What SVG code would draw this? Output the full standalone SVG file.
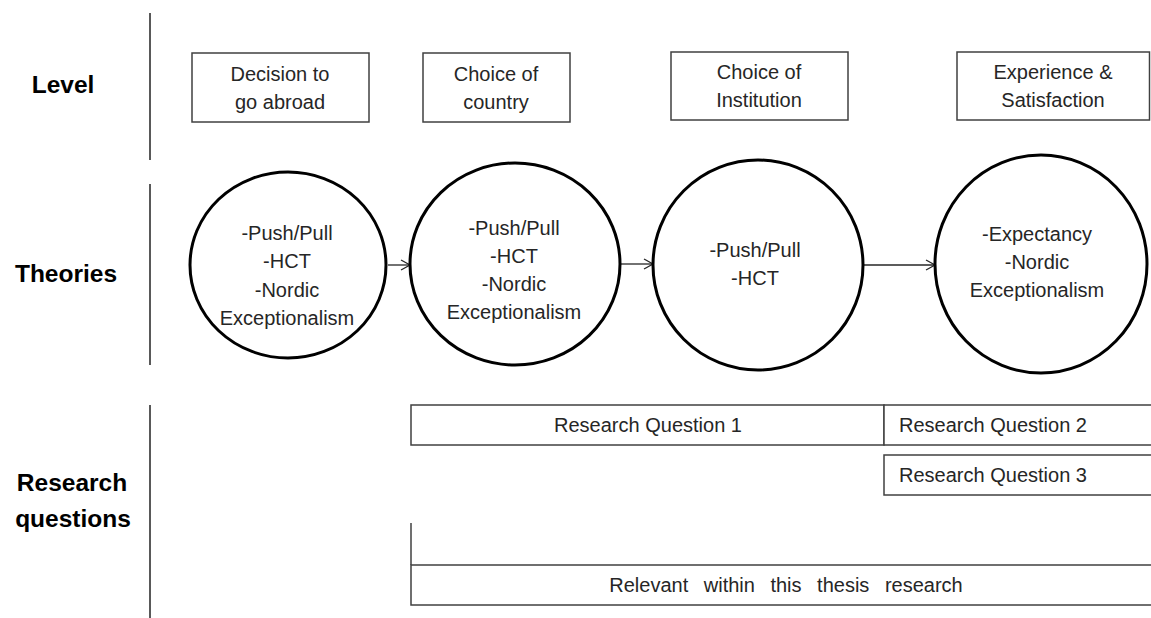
<svg xmlns="http://www.w3.org/2000/svg" width="1151" height="618" viewBox="0 0 1151 618">
<style>
  .lbl { font-family: "Liberation Sans", Arial, sans-serif; font-weight: bold; font-size: 24.5px; fill: #000; text-anchor: middle; }
  .t { font-family: "Liberation Sans", Arial, sans-serif; font-size: 20px; fill: #262626; text-anchor: middle; }
  .box { fill: #fff; stroke: #404040; stroke-width: 1.5; }
  .circ { fill: #fff; stroke: #000; stroke-width: 3; }
  .sep { stroke: #595959; stroke-width: 2; fill: none; }
  .conn { stroke: #262626; stroke-width: 1.3; fill: none; }
</style>
<defs>
  <marker id="arr" markerWidth="12" markerHeight="12" refX="10" refY="6" orient="auto" markerUnits="userSpaceOnUse">
    <polyline points="1,1 10,6 1,11" fill="none" stroke="#262626" stroke-width="1.3"/>
  </marker>
</defs>
<rect width="1151" height="618" fill="#fff"/>

<g id="row-labels">
  <text class="lbl" x="63" y="93">Level</text>
  <text class="lbl" x="66" y="282">Theories</text>
  <text class="lbl" x="72" y="491">Research</text>
  <text class="lbl" x="73" y="527">questions</text>
</g>

<g id="separators">
  <line class="sep" x1="150" y1="13" x2="150" y2="160"/>
  <line class="sep" x1="150" y1="184" x2="150" y2="365"/>
  <line class="sep" x1="150" y1="405" x2="150" y2="618"/>
</g>

<g id="level1">
  <rect class="box" x="192" y="53" width="177" height="69"/>
  <text class="t" x="280" y="81">Decision to</text>
  <text class="t" x="280" y="109">go abroad</text>
</g>
<g id="level2">
  <rect class="box" x="423" y="53" width="147" height="69"/>
  <text class="t" x="496" y="81">Choice of</text>
  <text class="t" x="496" y="109">country</text>
</g>
<g id="level3">
  <rect class="box" x="671" y="52" width="177" height="68"/>
  <text class="t" x="759" y="79">Choice of</text>
  <text class="t" x="759" y="107">Institution</text>
</g>
<g id="level4">
  <rect class="box" x="957" y="52" width="192.5" height="68"/>
  <text class="t" x="1053" y="79">Experience &amp;</text>
  <text class="t" x="1053" y="107">Satisfaction</text>
</g>

<g id="connectors">
  <line class="conn" x1="388" y1="265" x2="410" y2="265" marker-end="url(#arr)"/>
  <line class="conn" x1="621" y1="264" x2="653" y2="264" marker-end="url(#arr)"/>
  <line class="conn" x1="864" y1="265" x2="935" y2="265" marker-end="url(#arr)"/>
</g>

<g id="theory1">
  <ellipse class="circ" cx="288" cy="265" rx="98" ry="93"/>
  <text class="t" x="287" y="240">-Push/Pull</text>
  <text class="t" x="287" y="268">-HCT</text>
  <text class="t" x="287" y="297">-Nordic</text>
  <text class="t" x="287" y="325">Exceptionalism</text>
</g>
<g id="theory2">
  <ellipse class="circ" cx="515" cy="264" rx="105" ry="101"/>
  <text class="t" x="514" y="235">-Push/Pull</text>
  <text class="t" x="514" y="263">-HCT</text>
  <text class="t" x="514" y="291">-Nordic</text>
  <text class="t" x="514" y="319">Exceptionalism</text>
</g>
<g id="theory3">
  <ellipse class="circ" cx="758" cy="265" rx="105" ry="105"/>
  <text class="t" x="755" y="257">-Push/Pull</text>
  <text class="t" x="755" y="285">-HCT</text>
</g>
<g id="theory4">
  <ellipse class="circ" cx="1041" cy="264" rx="106" ry="109"/>
  <text class="t" x="1037" y="241">-Expectancy</text>
  <text class="t" x="1037" y="269">-Nordic</text>
  <text class="t" x="1037" y="297">Exceptionalism</text>
</g>

<g id="rq1">
  <rect class="box" x="411" y="405" width="473" height="40"/>
  <text class="t" x="648" y="432">Research Question 1</text>
</g>
<g id="rq2">
  <rect class="box" x="884" y="405" width="280" height="40"/>
  <text class="t" x="993" y="432">Research Question 2</text>
</g>
<g id="rq3">
  <rect class="box" x="884" y="455" width="280" height="40"/>
  <text class="t" x="993" y="482">Research Question 3</text>
</g>
<g id="relevant">
  <line class="box" x1="411" y1="523" x2="411" y2="565"/>
  <rect class="box" x="411" y="565" width="753" height="40"/>
  <text class="t" x="786" y="592" style="word-spacing:10px">Relevant within this thesis research</text>
</g>
</svg>
